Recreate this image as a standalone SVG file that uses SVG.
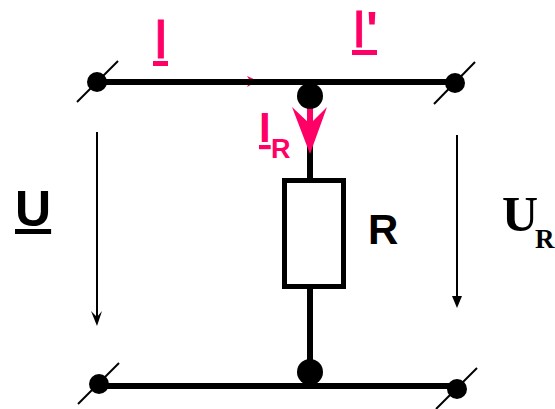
<svg xmlns="http://www.w3.org/2000/svg" width="555" height="409" viewBox="0 0 555 409">
<style>
.w{stroke:#000;stroke-width:6;fill:none}
.s{stroke:#000;stroke-width:2;fill:none}
.v{stroke:#000;stroke-width:2;fill:none}
.d{fill:#000}
.t{font-family:"Liberation Sans",Arial,sans-serif;font-weight:bold}
.n{font-weight:normal;stroke:#ff0066;stroke-width:.8}
.u{text-decoration:underline}
.r{fill:#ff0066}
.f{font-family:"Liberation Serif",serif;font-weight:bold}
</style>
<rect width="555" height="409" fill="#fff"/>
<g id="connectors">
<path class="r" d="M258 81L247 76L250 81L247 87Z"/>
<path class="w" d="M97 82H455"/>
<path class="w" d="M99 386H457"/>
<path class="w" d="M310 96V180M310 287V372"/>
<path class="v" d="M97 132V318"/>
<path class="d" d="M97 326L91 311L97 317L102 311Z"/>
<path class="v" d="M457 135V298"/>
<path class="d" d="M457 308L452 296H462Z"/>
<path d="M310 108V130" stroke="#ff0066" stroke-width="6" fill="none"/>
<path class="r" d="M310 154L292 107L310 124L327 107Z"/>
</g>
<g id="terminal-top-left"><path class="s" d="M77 102L118 61"/><circle class="d" cx="97" cy="82" r="10"/></g>
<g id="terminal-top-right"><path class="s" d="M434 104L475 62"/><circle class="d" cx="455" cy="83" r="10"/></g>
<g id="terminal-bottom-left"><path class="s" d="M78 404L119 363"/><circle class="d" cx="99" cy="384" r="10"/></g>
<g id="terminal-bottom-right"><path class="s" d="M436 409L477 368"/><circle class="d" cx="457" cy="389" r="10"/></g>
<g id="junction-top"><circle class="d" cx="310" cy="96" r="13"/></g>
<g id="junction-bottom"><circle class="d" cx="310" cy="372" r="13"/></g>
<g id="resistor"><rect x="284.5" y="180.5" width="59" height="106" fill="#fff" stroke="#000" stroke-width="5"/></g>
<g id="label-I"><text class="t n r" x="153" y="58" font-size="56">I</text><rect class="r" x="153" y="61" width="15" height="5"/></g>
<g id="label-I-prime"><text class="t n r" x="352" y="47" font-size="52">I</text><text class="t r" x="366" y="47" font-size="50">'</text><rect class="r" x="352" y="50" width="25" height="5"/></g>
<g id="label-IR"><text class="t u r" x="259" y="142" font-size="42">I</text><text class="t r" x="271" y="158" font-size="27">R</text></g>
<g id="label-U"><text class="t u" x="15" y="226" font-size="50">U</text></g>
<g id="label-R"><text class="t" x="368" y="244" font-size="42">R</text></g>
<g id="label-UR"><text class="f" x="502" y="231" font-size="50">U</text><text class="f" x="535" y="248" font-size="27">R</text></g>
</svg>
